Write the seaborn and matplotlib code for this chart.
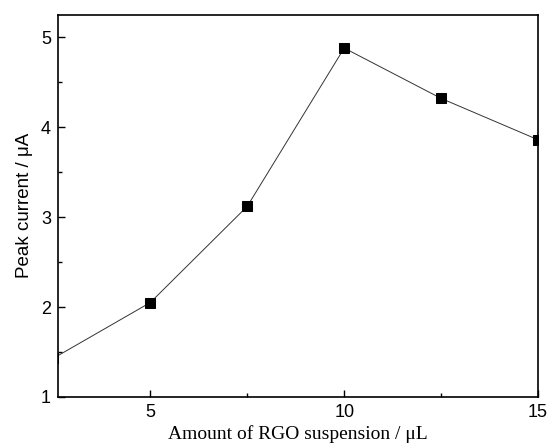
import numpy as np
import matplotlib
matplotlib.use("Agg")
import matplotlib.pyplot as plt
import seaborn as sns
from matplotlib.ticker import MultipleLocator

# Du lieu doc tu hinh
volume_ul = [2.5, 5.0, 7.5, 10.0, 12.5, 15.0]
peak_current = [1.43, 2.05, 3.12, 4.88, 4.32, 3.86]

sns.set_theme(style="white")
plt.rcParams['font.family'] = ['Liberation Sans', 'DejaVu Sans']

fig = plt.figure(figsize=(5.53, 4.48), dpi=100)
ax = fig.add_axes([0.105, 0.114, 0.868, 0.853])

sns.lineplot(x=volume_ul, y=peak_current, ax=ax, color='#333333', linewidth=0.7,
             marker='s', markersize=7.5, markerfacecolor='black', markeredgecolor='black')

ax.set_xlim(2.62, 15)
ax.set_ylim(1, 5.25)
ax.xaxis.set_major_locator(MultipleLocator(5))
ax.xaxis.set_minor_locator(MultipleLocator(2.5))
ax.yaxis.set_major_locator(MultipleLocator(1))
ax.yaxis.set_minor_locator(MultipleLocator(0.5))
ax.tick_params(which='both', direction='in', bottom=True, left=True, top=False, right=False,
               labelsize=13, color='black', labelcolor='black')
ax.tick_params(which='major', length=5, width=1, pad=5)
ax.tick_params(which='minor', length=3, width=1)
for s in ax.spines.values():
    s.set_color('black')
    s.set_linewidth(1.2)

ax.set_xlabel("Amount of RGO suspension / μL", family=['Liberation Serif', 'DejaVu Serif'],
              fontsize=14, labelpad=3, color='black')
ax.set_ylabel("Peak current / μA", fontsize=13.5, labelpad=6, color='black')

fig.savefig("out.png", dpi=100)
plt.close(fig)
